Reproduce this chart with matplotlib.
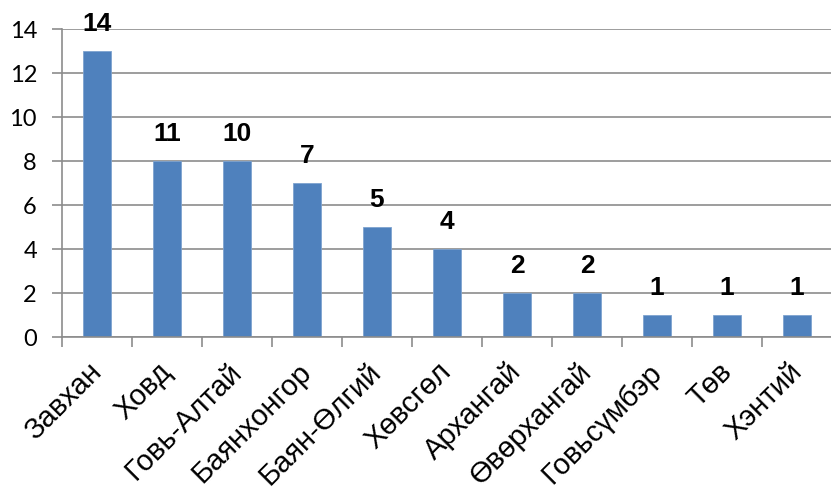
import numpy as np
import matplotlib.pyplot as plt

categories = ["Завхан", "Ховд", "Говь-Алтай", "Баянхонгор", "Баян-Өлгий", "Хөвсгөл",
              "Архангай", "Өвөрхангай", "Говьсүмбэр", "Төв", "Хэнтий"]
bar_values = [13, 8, 8, 7, 5, 4, 2, 2, 1, 1, 1]
label_values = [14, 11, 10, 7, 5, 4, 2, 2, 1, 1, 1]
y_ticks = [0, 2, 4, 6, 8, 10, 12, 14]

grid_color = "#8c8c8c"

fig = plt.figure(figsize=(8.31, 4.99), dpi=100)
ax = fig.add_axes([62 / 831, 162 / 499, 770 / 831, 308 / 499])

x = np.arange(len(categories))
ax.bar(x, bar_values, width=0.4, color="#4f81bd", edgecolor="#7ea3cf", linewidth=0.6, zorder=2)

for xi, bv, lv in zip(x, bar_values, label_values):
    ax.annotate(str(lv), (xi, bv), xytext=(0, 11), textcoords="offset points",
                ha="center", va="bottom", fontsize=19, fontweight="bold",
                family="Liberation Sans", zorder=3)

ax.set_xlim(-0.5, len(categories) - 0.5)
ax.set_ylim(0, 14)
ax.set_yticks(y_ticks)
ax.set_yticklabels([str(t) for t in y_ticks], fontsize=17, family="Lato")
ax.yaxis.grid(True, color=grid_color, linewidth=1.2, zorder=0)
ax.tick_params(axis="y", length=7, width=1.2, color=grid_color, pad=11)

ax.set_xticks(np.arange(len(categories) + 1) - 0.5)
ax.set_xticklabels([])
ax.tick_params(axis="x", length=7, width=1.2, color=grid_color)
for xi, name in zip(x, categories):
    ax.annotate(name, (xi, 0), xytext=(-7, -15), textcoords="offset points",
                ha="right", va="top", rotation=45, rotation_mode="anchor",
                fontsize=21, family="Liberation Sans", annotation_clip=False)

for side in ["top", "right"]:
    ax.spines[side].set_visible(False)
ax.spines["left"].set_color(grid_color)
ax.spines["bottom"].set_color(grid_color)
ax.spines["left"].set_linewidth(1.2)
ax.spines["bottom"].set_linewidth(1.2)

fig.savefig("out.png", dpi=100)
